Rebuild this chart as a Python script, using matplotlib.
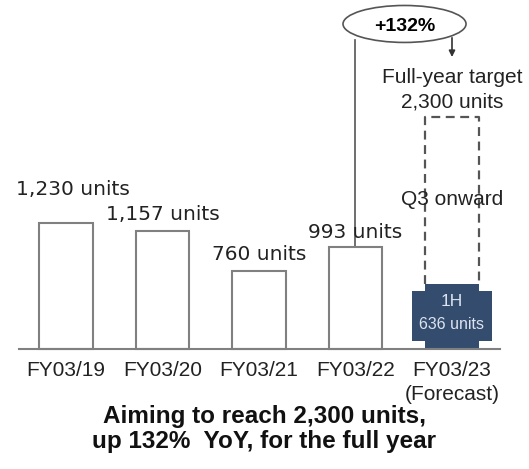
import matplotlib
matplotlib.use("Agg")
import matplotlib.pyplot as plt
from matplotlib.patches import Ellipse, Rectangle

# data
years = ["FY03/19", "FY03/20", "FY03/21", "FY03/22", "FY03/23\n(Forecast)"]
units = [1230, 1157, 760, 993]
first_half = 636
target = 2300
growth = "+132%"

labels = ["1,230 units", "1,157 units", "760 units", "993 units"]

fig = plt.figure(figsize=(5.29, 4.69), dpi=100)
ax = fig.add_axes([0, 0, 1, 1])
ax.set_xlim(-0.684, 4.798)
ax.set_ylim(-1172, 3408)
ax.axis("off")

sans = ["Liberation Sans", "DejaVu Sans"]
grey = "#808080"
navy = "#344d6f"

# past years, white bars with grey edge
x = list(range(len(units)))
ax.bar(x, units, width=0.55, color="white", edgecolor=grey, linewidth=1.5, zorder=2)

# value labels (first one sits higher and a bit left)
lab_dx = [0.07, 0, 0, 0]
lab_dy = [323, 152, 158, 140]
for i, v in enumerate(units):
    ax.text(i + lab_dx[i], v + lab_dy[i], labels[i], ha="center", va="center",
            fontsize=14.5, family="DejaVu Sans", color="#222222")

# forecast year: 1H box (notched) + dashed outline up to target
xf = len(units)
ax.bar(xf, first_half, width=0.55, color=navy, zorder=3)
ax.add_patch(Rectangle((xf - 0.415, 80), 0.83, first_half - 70 - 80,
                       facecolor=navy, edgecolor="none", zorder=3))
ax.text(xf, first_half - 175, "1H", ha="center", va="center", color="#dde3ee",
        fontsize=12.5, family=sans, zorder=4)
ax.text(xf, first_half - 400, "636 units", ha="center", va="center", color="#dde3ee",
        fontsize=11.5, family=sans, zorder=4)

ax.plot([xf - 0.275, xf - 0.275, xf + 0.275, xf + 0.275],
        [first_half, target - 30, target - 30, first_half],
        color="#555555", lw=1.6, ls=(0, (4, 2.5)), zorder=1)

ax.text(xf, 1455, "Q3 onward", ha="center", va="center", fontsize=15, family=sans,
        color="#222222")
ax.text(xf, 2656, "Full-year target", ha="center", va="center", fontsize=15,
        family=sans, color="#222222")
ax.text(xf, 2412, "2,300 units", ha="center", va="center", fontsize=15,
        family=sans, color="#222222")

# growth bubble
ex, ey = 3.508, 3174
ax.add_patch(Ellipse((ex, ey), 1.275, 361, facecolor="white", edgecolor="#555555",
                     lw=1.2, zorder=3))
ax.text(ex, ey - 20, growth, ha="center", va="center", fontsize=14, weight="bold",
        family=sans, zorder=4)
ax.plot([3, 3], [units[3], ey - 160], color="#555555", lw=1.2, zorder=1)
ax.annotate("", xy=(xf, 2851), xytext=(xf, ey - 135),
            arrowprops=dict(arrowstyle="-|>", color="#333333", lw=1.2,
                            mutation_scale=9, shrinkA=0, shrinkB=0))

# baseline
ax.plot([-0.487, 4.497], [0, 0], color=grey, lw=1.5, zorder=4)

# category labels
for i, name in enumerate(years):
    ax.text(i, -120, name, ha="center", va="top", fontsize=15, family=sans,
            color="#222222", linespacing=1.3)

ax.text(0.5, 0.085, "Aiming to reach 2,300 units,\nup 132%  YoY, for the full year",
        transform=ax.transAxes, ha="center", va="center", fontsize=17.5,
        weight="bold", family=sans, linespacing=1.15, color="#111111")

fig.savefig("out.png", dpi=100)
